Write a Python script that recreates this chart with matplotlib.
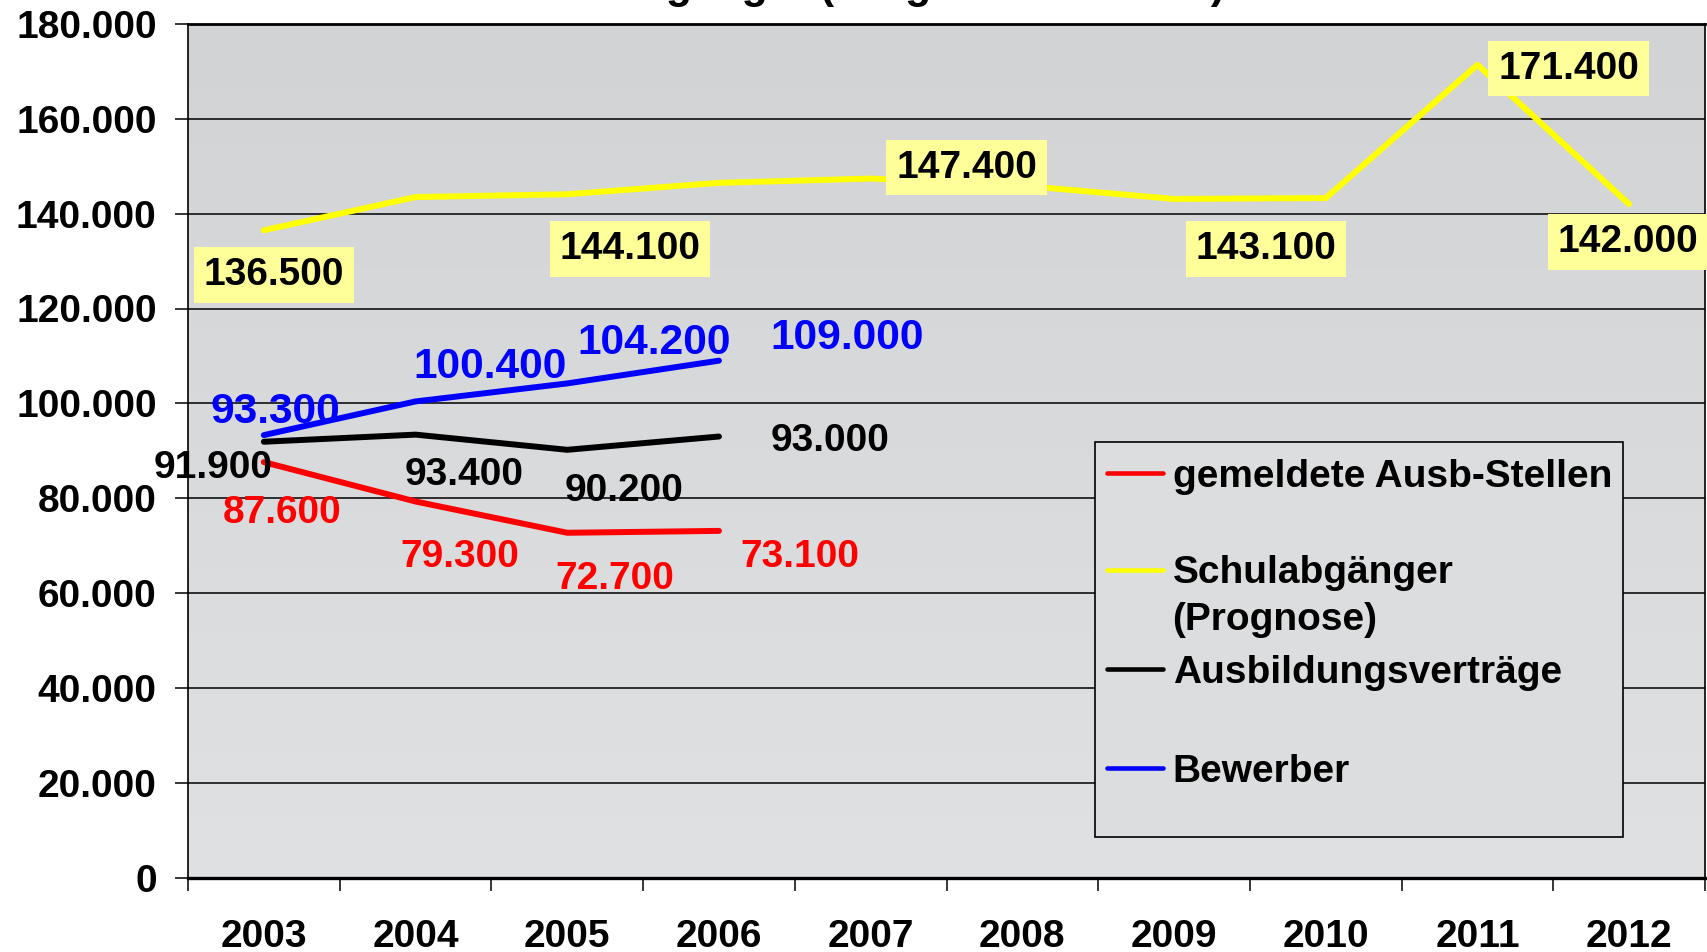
import numpy as np
import matplotlib.pyplot as plt
from matplotlib.colors import LinearSegmentedColormap
from matplotlib.lines import Line2D
from matplotlib.patches import Rectangle

plt.rcParams['font.family'] = ['Liberation Sans', 'DejaVu Sans']
plt.rcParams['font.weight'] = 'bold'

# data
years = ['2003', '2004', '2005', '2006', '2007', '2008', '2009', '2010', '2011', '2012']
stellen = [87600, 79300, 72700, 73100]           # gemeldete Ausb-Stellen
schulabg = [136500, 143500, 144100, 146500, 147400, 145900, 143100, 143300, 171400, 142000]
vertraege = [91900, 93400, 90200, 93000]         # Ausbildungsverträge
bewerber = [93300, 100400, 104200, 109000]
yticks = np.arange(0, 180001, 20000)

def de(v):
    return f"{v:,.0f}".replace(",", ".")

fig = plt.figure(figsize=(17.07, 9.52), dpi=100)
ax = fig.add_axes([188/1707, 1-877.5/952, 1517/1707, 853.5/952])

# grey gradient background
cmap = LinearSegmentedColormap.from_list("bg", ["#e0e1e3", "#d2d3d5"])
ax.imshow(np.linspace(0, 1, 256)[:, None], extent=[0, 1, 0, 1], transform=ax.transAxes,
          cmap=cmap, aspect='auto', origin='lower', zorder=0)

for v in yticks:
    ax.axhline(v, color='black', lw=1.1, zorder=1)

series = [
    (stellen, '#ff0000', 'gemeldete Ausb-Stellen'),
    (schulabg, '#ffff00', 'Schulabgänger\n(Prognose)'),
    (vertraege, '#000000', 'Ausbildungsverträge'),
    (bewerber, '#0000ff', 'Bewerber'),
]
for vals, col, lab in series:
    ax.plot(np.arange(len(vals)), vals, color=col, lw=4.3, solid_capstyle='round',
            solid_joinstyle='round', zorder=3)

# data labels: (index, dx, dy) in pixels from the point
lab_red = [(0, 18.6, -47), (1, 44, -51.5), (2, 48, -42), (3, 80.6, -22)]
lab_yel = [(0, 10, -41), (2, 63, -51), (4, 96, 15), (6, 92, -46), (8, 91, 0), (9, -1, -34)]
lab_blk = [(0, -51, -22), (1, 49, -36), (2, 56.5, -37), (3, 111, -1)]
lab_blu = [(0, 11.5, 27), (1, 75, 39), (2, 87, 45), (3, 128.5, 26.5)]

def put_labels(vals, labs, col, fs, box=False):
    em = fs * 100 / 72
    for i, dx, dy in labs:
        kw = {}
        if box:
            kw['bbox'] = dict(boxstyle='square,pad=0.25', fc='#ffff99', ec='none')
        ax.annotate(de(vals[i]), xy=(i, vals[i]), xytext=(dx, dy - 0.358 * em),
                    textcoords='offset pixels', ha='center', va='baseline',
                    color=col, fontsize=fs, fontweight='bold', zorder=5, **kw)

put_labels(stellen, lab_red, '#ff0000', 28)
put_labels(schulabg, lab_yel, '#000000', 28, box=True)
put_labels(vertraege, lab_blk, '#000000', 28)
put_labels(bewerber, lab_blu, '#0000ff', 30.6)

ax.set_xlim(-0.5, len(years) - 0.5)
ax.set_ylim(0, 180000)
ax.set_yticks(yticks)
ax.set_yticklabels([de(v) for v in yticks])
ax.set_xticks(np.arange(len(years) + 1) - 0.5)
ax.set_xticklabels([])
ax.set_xticks(np.arange(len(years)), minor=True)
ax.set_xticklabels(years, minor=True)
ax.tick_params(axis='y', length=9.5, width=1.1, pad=13, labelsize=28)
ax.tick_params(axis='x', which='major', length=9.5, width=1.1)
ax.tick_params(axis='x', which='minor', length=0, pad=30, labelsize=28)

for s in ['left', 'right', 'top']:
    ax.spines[s].set_linewidth(1.2)
ax.spines['bottom'].set_linewidth(2.4)
ax.spines['top'].set_linewidth(2.0)

# legend box drawn like the Excel one
ax.add_patch(Rectangle((0.598, 0.0475), 0.348, 0.4625, transform=ax.transAxes,
                       fc='#dcdddf', ec='black', lw=1.2, zorder=4))
leg_y = [0.4745, 0.3602, 0.2442, 0.1281]
for (vals, col, lab), y in zip(series, leg_y):
    ax.add_line(Line2D([0.606, 0.643], [y, y], transform=ax.transAxes, color=col,
                       lw=3.3, solid_capstyle='round', zorder=5))
    nl = lab.count('\n')
    ax.annotate(lab, xy=(0.649, y), xycoords='axes fraction', xytext=(0, -14 - 45.7 * nl),
                textcoords='offset pixels', ha='left', va='baseline',
                fontsize=28, fontweight='bold', linespacing=1.4, zorder=5)

# title, mostly cut off at the top edge
fig.text(500/1707, 1 + 2/952, "Schulabgänger (Prognose bis 2012)", ha='left', va='baseline',
         fontsize=30.7, fontweight='bold')

fig.savefig('out.png', dpi=100)
